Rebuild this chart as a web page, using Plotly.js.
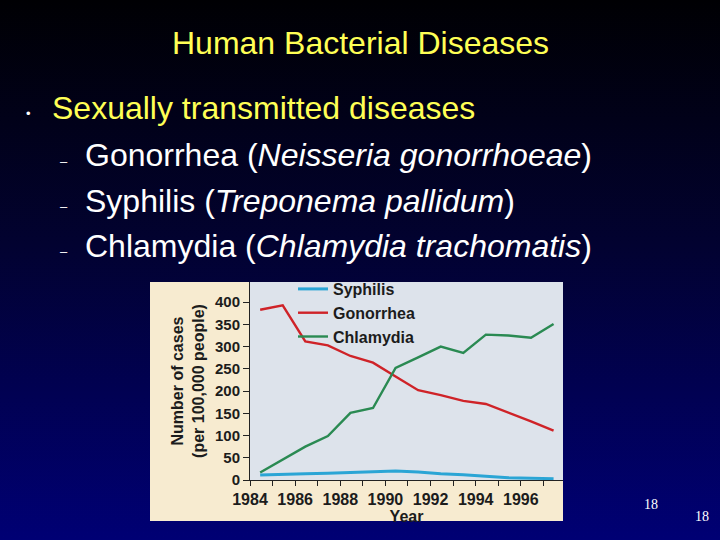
<!DOCTYPE html>
<html>
<head>
<meta charset="utf-8">
<script src="https://cdn.plot.ly/plotly-3.0.1.min.js"></script>
<style>
  html, body { margin: 0; padding: 0; }
  body { width: 720px; height: 540px; background: linear-gradient(to bottom, #000003 0%, #020230 45%, #000074 100%); overflow: hidden; }
  #chart { width: 720px; height: 540px; }
</style>
</head>
<body>
<div id="chart"></div>
<script>
// ---- data ----
const years = [1984, 1985, 1986, 1987, 1988, 1989, 1990, 1991, 1992, 1993, 1994, 1995, 1996, 1997];
const syphilis  = [11, 13, 14, 15, 17, 18, 20, 18, 14, 12, 9, 5, 4, 3];
const gonorrhea = [383, 393, 312, 303, 279, 264, 233, 202, 191, 178, 171, 152, 132, 111];
const chlamydia = [17, 46, 75, 99, 151, 162, 252, 276, 300, 286, 327, 325, 320, 351];
const seriesNames = ['Syphilis', 'Gonorrhea', 'Chlamydia'];
const tickYears = [1984, 1985, 1986, 1987, 1988, 1989, 1990, 1991, 1992, 1993, 1994, 1995, 1996, 1997];
const tickLabels = ['1984', '', '1986', '', '1988', '', '1990', '', '1992', '', '1994', '', '1996', ''];
const yTicks = [0, 50, 100, 150, 200, 250, 300, 350, 400];

const slideTitle = 'Human Bacterial Diseases';
const bullet1 = 'Sexually transmitted diseases';
const subItems = [
  'Gonorrhea (<i>Neisseria gonorrhoeae</i>)',
  'Syphilis (<i>Treponema pallidum</i>)',
  'Chlamydia (<i>Chlamydia trachomatis</i>)'
];
const pageNumber = '18';

// ---- layout geometry ----
const L = 250, R = 563, T = 282, B = 480;
const W = R - L, H = B - T;
const px = v => (v - L) / W;
const py = v => (B - v) / H;
const MID = 0.45; // points plotted mid-year

const colors = ['#2aa5d5', '#cf2328', '#2a8a52'];
const data = [syphilis, gonorrhea, chlamydia].map((vals, i) => ({
  type: 'scatter', mode: 'lines',
  x: years.map(y => y + MID), y: vals,
  name: seriesNames[i],
  line: { color: colors[i], width: i === 0 ? 3 : 2.4 },
  hoverinfo: 'skip'
}));

const sans = 'Liberation Sans, Arial, Helvetica, sans-serif';
const axFont = { family: sans, size: 16, color: '#1c1c1c', weight: 'bold' };

const annotations = [
  { text: slideTitle, x: px(360), y: py(43), xanchor: 'center', yanchor: 'middle',
    font: { family: sans, size: 32, color: '#ffff55' } },
  { text: '•', x: px(28), y: py(113), xanchor: 'center', yanchor: 'middle',
    font: { family: sans, size: 13, color: '#ffffff' } },
  { text: bullet1, x: px(50), y: py(108), xanchor: 'left', yanchor: 'middle',
    font: { family: sans, size: 32, color: '#ffff55' } }
];
const subY = [155, 200.5, 246];
subItems.forEach((t, i) => {
  annotations.push({ text: '–', x: px(64), y: py(subY[i] + 6), xanchor: 'center', yanchor: 'middle',
    font: { family: sans, size: 13, color: '#ffffff' } });
  annotations.push({ text: t, x: px(83), y: py(subY[i]), xanchor: 'left', yanchor: 'middle',
    font: { family: sans, size: 32, color: '#ffffff' } });
});
annotations.push({ text: pageNumber, x: px(651), y: py(504), xanchor: 'center', yanchor: 'middle',
  font: { family: 'Liberation Serif, Times New Roman, serif', size: 14, color: '#ffffff' } });
annotations.push({ text: pageNumber, x: px(702), y: py(516), xanchor: 'center', yanchor: 'middle',
  font: { family: 'Liberation Serif, Times New Roman, serif', size: 14, color: '#ffffff' } });
annotations.forEach(a => { a.xref = 'paper'; a.yref = 'paper'; a.showarrow = false; });

const layout = {
  width: 720, height: 540,
  margin: { l: L, r: 720 - R, t: T, b: 540 - B, pad: 0 },
  paper_bgcolor: 'rgba(0,0,0,0)',
  plot_bgcolor: 'rgba(0,0,0,0)',
  showlegend: true,
  legend: {
    x: px(293), y: py(272), xanchor: 'left', yanchor: 'top',
    bgcolor: 'rgba(0,0,0,0)', borderwidth: 0,
    font: { family: sans, size: 16, color: '#1c1c1c', weight: 'bold' },
    itemwidth: 30
  },
  xaxis: {
    range: [1984, 1984 + W / 22.57],
    tickmode: 'array', tickvals: tickYears, ticktext: tickLabels,
    ticks: 'outside', ticklen: 5, tickcolor: '#222', tickwidth: 1,
    showline: true, linecolor: '#222', linewidth: 1,
    showgrid: false, zeroline: false,
    tickfont: axFont,
    title: { text: 'Year', font: axFont, standoff: 0 }
  },
  yaxis: {
    range: [0, H / 0.4445],
    tickmode: 'array', tickvals: yTicks,
    ticks: 'outside', ticklen: 6, tickcolor: '#222', tickwidth: 1,
    showline: true, linecolor: '#222', linewidth: 1,
    showgrid: false, zeroline: false,
    tickfont: { family: sans, size: 15, color: '#1c1c1c', weight: 'bold' },
    title: { text: 'Number of cases<br>(per 100,000 people)', font: { family: sans, size: 16, color: '#1c1c1c', weight: 'bold' }, standoff: 6 }
  },
  shapes: [
    { type: 'rect', xref: 'paper', yref: 'paper', layer: 'below',
      x0: px(150), x1: 1, y0: py(521), y1: 1, fillcolor: '#f7ebd0', line: { width: 0 } },
    { type: 'rect', xref: 'paper', yref: 'paper', layer: 'below',
      x0: 0, x1: 1, y0: 0, y1: 1, fillcolor: '#dde3eb', line: { width: 0 } }
  ],
  annotations: annotations
};

Plotly.newPlot('chart', data, layout, { displayModeBar: false, staticPlot: true });
</script>
</body>
</html>
